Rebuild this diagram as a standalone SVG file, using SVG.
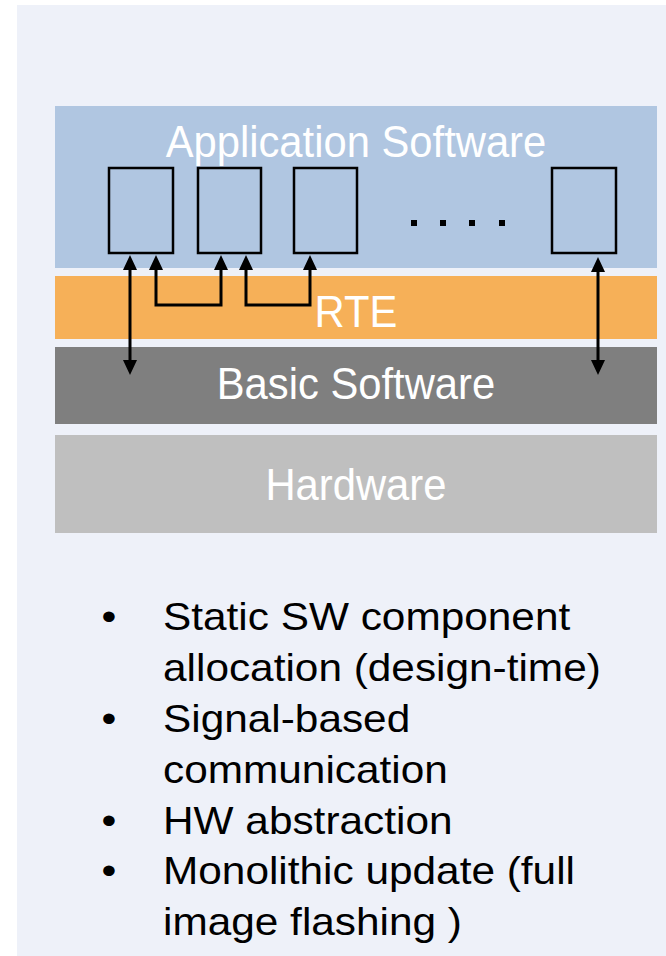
<svg xmlns="http://www.w3.org/2000/svg" width="666" height="956" viewBox="0 0 666 956">
  <style>
    text { font-family: "Liberation Sans", Arial, Helvetica, sans-serif; }
    .layer-label { font-size: 43.5px; fill: #ffffff; text-anchor: middle; }
    .swc { fill: none; stroke: #000000; stroke-width: 2.5; }
    .conn { fill: none; stroke: #000000; stroke-width: 3; marker-start: url(#head); marker-end: url(#head); }
    .dot { fill: #000000; }
    .bullets { font-size: 38.5px; fill: #000000; }
  </style>
  <defs>
    <marker id="head" viewBox="0 0 15 14" refX="0" refY="7" markerWidth="15" markerHeight="14" markerUnits="userSpaceOnUse" orient="auto-start-reverse">
      <path d="M0,0 L15,7 L0,14 Z" fill="#000000"/>
    </marker>
  </defs>

  <!-- panel background -->
  <rect x="17" y="5" width="649" height="951" fill="#EEF1F9"/>

  <!-- layered architecture (labels set slightly condensed) -->
  <g id="application-software">
    <rect x="55" y="106" width="602" height="162" fill="#B0C6E1"/>
    <text class="layer-label" transform="scale(0.96,1)" x="370.8" y="157">Application Software</text>
  </g>
  <g id="rte">
    <rect x="55" y="276" width="602" height="63" fill="#F6B058"/>
    <text class="layer-label" transform="scale(0.96,1)" x="370.8" y="327">RTE</text>
  </g>
  <g id="basic-software">
    <rect x="55" y="347" width="602" height="77" fill="#7F7F7F"/>
    <text class="layer-label" transform="scale(0.96,1)" x="370.8" y="399">Basic Software</text>
  </g>
  <g id="hardware">
    <rect x="55" y="435" width="602" height="98" fill="#BFBFBF"/>
    <text class="layer-label" transform="scale(0.96,1)" x="370.8" y="500">Hardware</text>
  </g>

  <!-- software components -->
  <g id="swc-1"><rect class="swc" x="109" y="168" width="64" height="85"/></g>
  <g id="swc-2"><rect class="swc" x="198" y="168" width="63" height="85"/></g>
  <g id="swc-3"><rect class="swc" x="294" y="168" width="63" height="85"/></g>
  <g id="swc-n"><rect class="swc" x="552" y="168" width="64" height="85"/></g>

  <g id="ellipsis">
    <rect class="dot" x="411" y="220" width="6" height="6"/>
    <rect class="dot" x="440" y="220" width="6" height="6"/>
    <rect class="dot" x="469" y="220" width="6" height="6"/>
    <rect class="dot" x="499" y="220" width="6" height="6"/>
  </g>

  <!-- connectors -->
  <g id="connectors">
    <path class="conn" d="M130,270 V360"/>
    <path class="conn" d="M156,270 V305 H221 V270"/>
    <path class="conn" d="M246,270 V305 H310 V270"/>
    <path class="conn" d="M598,272 V360"/>
  </g>

  <!-- feature list (wide-set type: horizontal scale 1.1) -->
  <g id="feature-list" class="bullets" transform="scale(1.1,1)">
    <text x="99.1" y="630" text-anchor="middle">•</text>
    <text x="148.2" y="630">Static SW component</text>
    <text x="148.2" y="681">allocation (design-time)</text>
    <text x="99.1" y="732" text-anchor="middle">•</text>
    <text x="148.2" y="732">Signal-based</text>
    <text x="148.2" y="783">communication</text>
    <text x="99.1" y="834" text-anchor="middle">•</text>
    <text x="148.2" y="834">HW abstraction</text>
    <text x="99.1" y="884" text-anchor="middle">•</text>
    <text x="148.2" y="884">Monolithic update (full</text>
    <text x="148.2" y="935">image flashing )</text>
  </g>
</svg>
